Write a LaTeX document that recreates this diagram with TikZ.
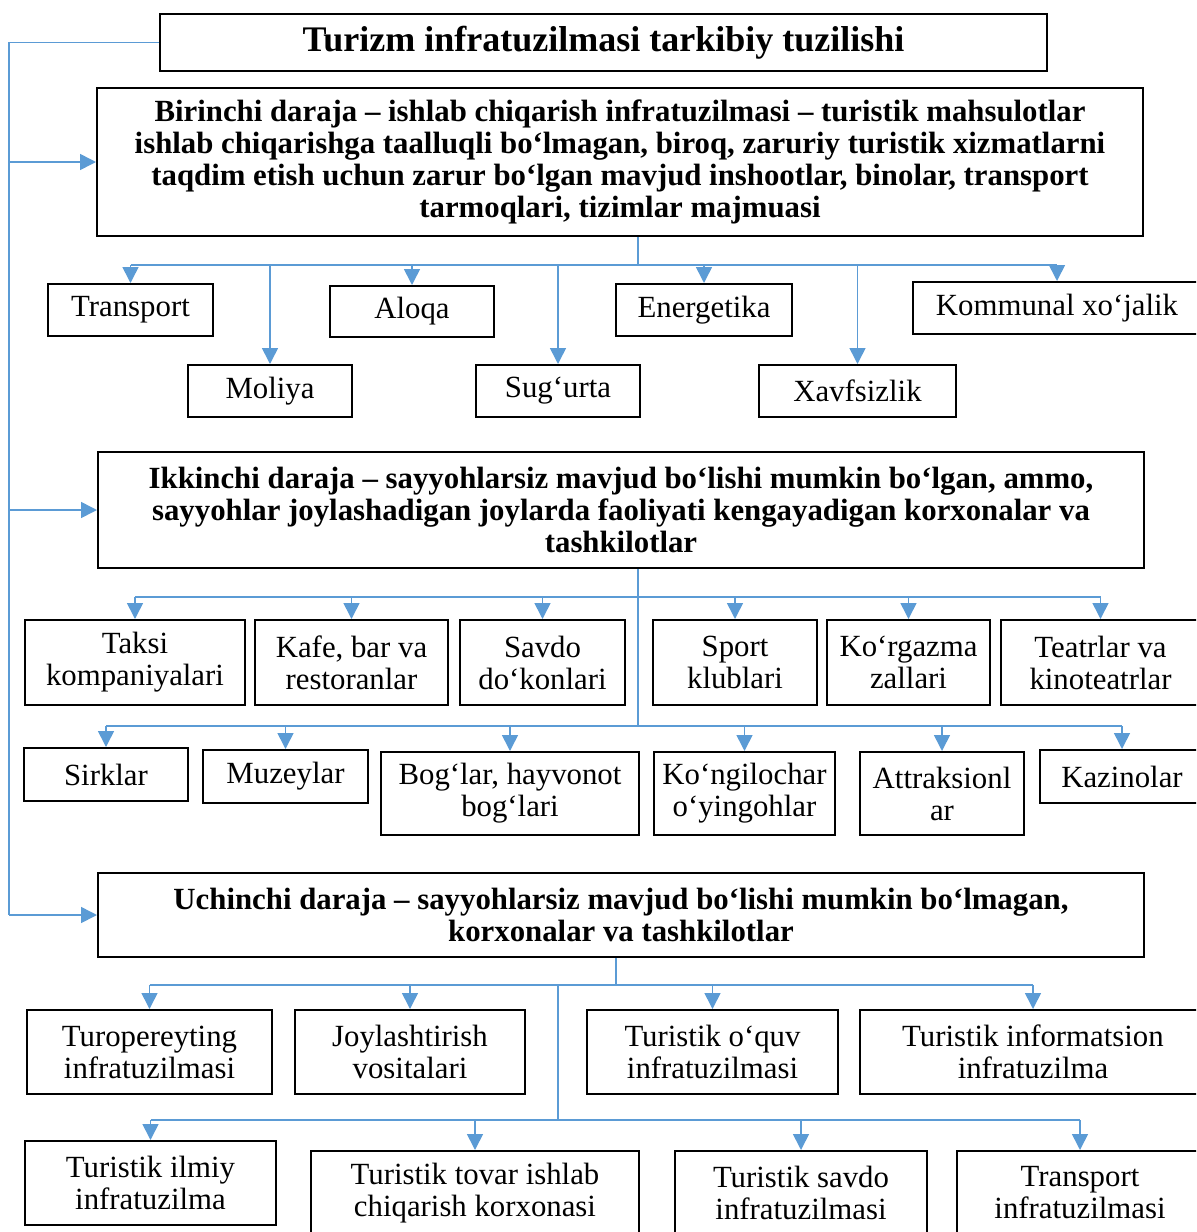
\documentclass[tikz,border=0pt]{standalone}
\usepackage{fontspec}
\setmainfont{Liberation Serif}
\usepackage{xcolor}
\usetikzlibrary{arrows.meta,positioning}
\definecolor{linkblue}{HTML}{5B9BD5}

\begin{document}
\begin{tikzpicture}[x=0.5pt,y=-0.5pt,
		box/.style={draw,line width=1pt,align=center,inner sep=1pt,font=\fontsize{15.4}{16}\selectfont},
		head/.style={box,font=\fontsize{15.4}{16}\selectfont\bfseries},
		conn/.style={linkblue,line width=0.8pt},
		arr/.style={conn,-{Triangle[width=8pt,length=8pt]}}]
				\useasboundingbox (0,0) rectangle (1196,1232);
				\clip (0,0) rectangle (1196,1232);
				% sarlavha va darajalar
				\node[box,font=\fontsize{18}{20}\selectfont\bfseries,minimum width=443.5pt,minimum height=28.5pt] (title) at (603.5,42.5) {Turizm infratuzilmasi tarkibiy tuzilishi};
				\node[head,minimum width=523pt,minimum height=74pt] (b1) at (620,162) {Birinchi daraja – ishlab chiqarish infratuzilmasi – turistik mahsulotlar\\ishlab chiqarishga taalluqli bo‘lmagan, biroq, zaruriy turistik xizmatlarni\\taqdim etish uchun zarur bo‘lgan mavjud inshootlar, binolar, transport\\tarmoqlari, tizimlar majmuasi};
				\node[head,minimum width=523pt,minimum height=58pt] (b2) at (621,510) {Ikkinchi daraja – sayyohlarsiz mavjud bo‘lishi mumkin bo‘lgan, ammo,\\sayyohlar joylashadigan joylarda faoliyati kengayadigan korxonalar va\\tashkilotlar};
				\node[head,minimum width=523pt,minimum height=42pt] (b3) at (621,915) {Uchinchi daraja – sayyohlarsiz mavjud bo‘lishi mumkin bo‘lmagan,\\korxonalar va tashkilotlar};
				% birinchi daraja
				\node[box,minimum width=82.5pt,minimum height=26pt] (transport) at (130.5,310) {Transport};
				\node[box,minimum width=82pt,minimum height=25.5pt] (aloqa) at (412,311.5) {Aloqa};
				\node[box,minimum width=88pt,minimum height=26pt] (energetika) at (704,310) {Energetika};
				\node[box,minimum width=144pt,minimum height=26pt] (kommunal) at (1057,308) {Kommunal xo‘jalik};
				\node[box,minimum width=82pt,minimum height=26pt] (moliya) at (270,391) {Moliya};
				\node[box,minimum width=82pt,minimum height=26pt] (sugurta) at (558,391) {Sug‘urta};
				\node[box,minimum width=98.5pt,minimum height=26pt] (xavfsizlik) at (857.5,391) {Xavfsizlik};
				% ikkinchi daraja
				\node[box,minimum width=110pt,minimum height=42.5pt] (taksi) at (135,662.5) {Taksi\\kompaniyalari};
				\node[box,minimum width=96.5pt,minimum height=42.5pt] (kafe) at (351.5,662.5) {Kafe, bar va\\restoranlar};
				\node[box,minimum width=82.5pt,minimum height=42.5pt] (savdo) at (542.5,662.5) {Savdo\\do‘konlari};
				\node[box,minimum width=82pt,minimum height=42.5pt] (sport) at (735,662.5) {Sport\\klublari};
				\node[box,minimum width=81.5pt,minimum height=42.5pt] (korgazma) at (908.5,662.5) {Ko‘rgazma\\zallari};
				\node[box,minimum width=99.5pt,minimum height=42.5pt] (teatr) at (1100.5,662.5) {Teatrlar va\\kinoteatrlar};
				\node[box,minimum width=82pt,minimum height=26.5pt] (sirk) at (106,774.5) {Sirklar};
				\node[box,minimum width=82.5pt,minimum height=26.5pt] (muzey) at (285.5,776.5) {Muzeylar};
				\node[box,minimum width=129pt,minimum height=41.5pt] (boglar) at (510,793.5) {Bog‘lar, hayvonot\\bog‘lari};
				\node[box,minimum width=90.5pt,minimum height=41.5pt] (kongil) at (744.5,793.5) {Ko‘ngilochar\\o‘yingohlar};
				\node[box,minimum width=82pt,minimum height=41.5pt] (attr) at (942,793.5) {Attraksionl\\ar};
				\node[box,minimum width=82pt,minimum height=26.5pt] (kazino) at (1122,776.5) {Kazinolar};
				% uchinchi daraja
				\node[box,minimum width=122.5pt,minimum height=42pt] (turop) at (149.5,1052) {Turopereyting\\infratuzilmasi};
				\node[box,minimum width=115pt,minimum height=42pt] (joyl) at (410,1052) {Joylashtirish\\vositalari};
				\node[box,minimum width=125.5pt,minimum height=42pt] (oquv) at (712.5,1052) {Turistik o‘quv\\infratuzilmasi};
				\node[box,minimum width=173pt,minimum height=42pt] (inform) at (1033,1052) {Turistik informatsion\\infratuzilma};
				\node[box,minimum width=125.5pt,minimum height=42pt] (ilmiy) at (150.5,1183) {Turistik ilmiy\\infratuzilma};
				\node[box,minimum width=164pt,minimum height=42pt] (tovar) at (475,1193) {Turistik tovar ishlab\\chiqarish korxonasi};
				\node[box,minimum width=126pt,minimum height=42pt] (tsavdo) at (801,1193) {Turistik savdo\\infratuzilmasi};
				\node[box,minimum width=123pt,minimum height=42pt] (ttrans) at (1080,1193) {Transport\\infratuzilmasi};
				% chap tomondagi chiziq
				\draw[conn] (title.west) -- ++(-150,0) coordinate (l0) -- (l0 |- b3.west);
				\foreach \b in {b1,b2,b3}
					\draw[arr] (l0 |- \b.west) -- (\b.west);
				% tarmoqlar
				\coordinate (t1) at (638,265);
				\draw[conn] (b1.south -| t1) -- (t1);
				\draw[conn] (t1 -| transport) -- (t1 -| kommunal);
				\foreach \n in {transport,moliya,aloqa,sugurta,energetika,xavfsizlik,kommunal}
					\draw[arr] (t1 -| \n) -- (\n);
				\coordinate (t2) at (638,597);
				\coordinate (t2b) at (638,726);
				\draw[conn] (b2.south -| t2) -- (t2b);
				\draw[conn] (t2 -| taksi) -- (t2 -| teatr);
				\draw[conn] (t2b -| sirk) -- (t2b -| kazino);
				\foreach \n in {taksi,kafe,savdo,sport,korgazma,teatr}
					\draw[arr] (t2 -| \n) -- (\n);
				\foreach \n in {sirk,muzey,boglar,kongil,attr,kazino}
					\draw[arr] (t2b -| \n) -- (\n);
				\coordinate (t3) at (616,985);
				\coordinate (t3b) at (558,1120);
				\draw[conn] (b3.south -| t3) -- (t3);
				\draw[conn] (t3 -| turop) -- (t3 -| inform);
				\draw[conn] (t3 -| t3b) -- (t3b);
				\draw[conn] (t3b -| ilmiy) -- (t3b -| ttrans);
				\foreach \n in {turop,joyl,oquv,inform}
					\draw[arr] (t3 -| \n) -- (\n);
				\foreach \n in {ilmiy,tovar,tsavdo,ttrans}
					\draw[arr] (t3b -| \n) -- (\n);
			\end{tikzpicture}
\end{document}
